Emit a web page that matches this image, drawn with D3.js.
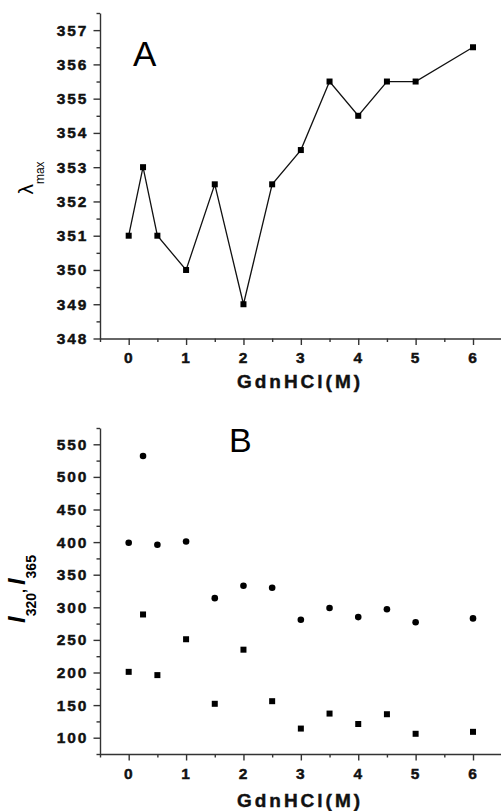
<!DOCTYPE html>
<html>
<head>
<meta charset="utf-8">
<script src="https://cdn.jsdelivr.net/npm/d3@7"></script>
<style>
  body { margin: 0; background: #fff; }
  svg text { font-family: "Liberation Sans", Arial, sans-serif; }
  .tick text { font-weight: bold; font-size: 15.5px; letter-spacing: 2px; fill: #111; stroke: #111; stroke-width: 0.45px; }
  .axis path, .axis line { stroke: #333; stroke-width: 1.4; }
  .title { stroke: #111; stroke-width: 0.45px; fill: #111; }
</style>
</head>
<body>
<div id="chart"></div>
<script>
// GdnHCl concentration (M)
var conc = [0, 0.25, 0.5, 1, 1.5, 2, 2.5, 3, 3.5, 4, 4.5, 5, 6];
// panel A: emission maximum (nm)
var lambdaMax = [351, 353, 351, 350, 352.5, 349, 352.5, 353.5, 355.5, 354.5, 355.5, 355.5, 356.5];
// panel B: intensities
var i320 = [399, 532, 396, 401, 314, 333, 330, 281, 299, 285, 297, 277, 283];
var i365 = [201, 289, 196, 251, 152, 235, 156, 114, 137, 121, 136, 106, 109];

var xTicks = [0, 1, 2, 3, 4, 5, 6];
var yTicksA = [348, 349, 350, 351, 352, 353, 354, 355, 356, 357];
var yTicksB = [100, 150, 200, 250, 300, 350, 400, 450, 500, 550];

var width = 501, height = 811;
var svg = d3.select("#chart").append("svg").attr("width", width).attr("height", height);

var x = d3.scaleLinear().domain([-0.5, 6.5]).range([100, 501.7]);
var yA = d3.scaleLinear().domain([348, 357.5]).range([338.5, 13]);
var yB = d3.scaleLinear().domain([75, 575]).range([754, 428]);

function drawAxes(y, yTicks, yMinorStep, bottom) {
    // minor ticks first
    var xMinor = d3.range(-0.5, 6.51, 0.5).filter(d => xTicks.indexOf(d) < 0);
    svg.append("g").attr("class", "axis")
        .attr("transform", "translate(0," + bottom + ")")
        .call(d3.axisBottom(x).tickValues(xMinor).tickSize(3.5).tickFormat(""))
        .select(".domain").remove();
    svg.append("g").attr("class", "axis")
        .attr("transform", "translate(0," + bottom + ")")
        .call(d3.axisBottom(x).tickValues(xTicks).tickSize(6.5).tickPadding(7).tickSizeOuter(0).tickFormat(d3.format("d")));

    var dom = y.domain();
    var yMinor = d3.range(dom[0], dom[1] + 0.001, yMinorStep).filter(d => yTicks.indexOf(d) < 0);
    svg.append("g").attr("class", "axis")
        .attr("transform", "translate(100,0)")
        .call(d3.axisLeft(y).tickValues(yMinor).tickSize(3.5).tickFormat(""))
        .select(".domain").remove();
    svg.append("g").attr("class", "axis")
        .attr("transform", "translate(100,0)")
        .call(d3.axisLeft(y).tickValues(yTicks).tickSize(6.5).tickPadding(5).tickSizeOuter(0).tickFormat(d3.format("d")));
}

// ---- panel A ----
drawAxes(yA, yTicksA, 0.5, 338.5);

var line = d3.line().x((d, i) => x(conc[i])).y(d => yA(d));
svg.append("path")
    .datum(lambdaMax)
    .attr("fill", "none")
    .attr("stroke", "#111")
    .attr("stroke-width", 1.3)
    .attr("d", line);

svg.append("g").selectAll("rect")
    .data(lambdaMax)
    .enter().append("rect")
    .attr("x", (d, i) => x(conc[i]) - 3)
    .attr("y", d => yA(d) - 3)
    .attr("width", 6).attr("height", 6)
    .attr("fill", "#000");

svg.append("text").attr("x", 133).attr("y", 66)
    .attr("font-size", 35).text("A");

var tA = svg.append("text")
    .attr("transform", "translate(33,178) rotate(-90)")
    .attr("text-anchor", "middle");
tA.append("tspan").attr("font-size", 21).text("λ");
tA.append("tspan").attr("font-size", 12).attr("dy", 11).text("max");

svg.append("text").attr("class", "title").attr("x", 300).attr("y", 388)
    .attr("text-anchor", "middle")
    .attr("font-size", 19).attr("font-weight", "bold")
    .style("letter-spacing", "3px")
    .text("GdnHCl(M)");

// ---- panel B ----
drawAxes(yB, yTicksB, 25, 754);

svg.append("g").selectAll("circle")
    .data(i320)
    .enter().append("circle")
    .attr("cx", (d, i) => x(conc[i]))
    .attr("cy", d => yB(d))
    .attr("r", 3.3)
    .attr("fill", "#000");

svg.append("g").selectAll("rect")
    .data(i365)
    .enter().append("rect")
    .attr("x", (d, i) => x(conc[i]) - 3)
    .attr("y", d => yB(d) - 3)
    .attr("width", 6).attr("height", 6)
    .attr("fill", "#000");

svg.append("text").attr("x", 229).attr("y", 452)
    .attr("font-size", 34).text("B");

var tB = svg.append("text")
    .attr("transform", "translate(25,589) rotate(-90)")
    .attr("text-anchor", "middle")
    .attr("font-weight", "bold");
tB.append("tspan").attr("font-size", 24).attr("font-style", "italic").text("I");
tB.append("tspan").attr("font-size", 14).attr("dy", 11).text("320");
tB.append("tspan").attr("font-size", 14).attr("dy", -11).text(", ");
tB.append("tspan").attr("font-size", 24).attr("font-style", "italic").text("I");
tB.append("tspan").attr("font-size", 14).attr("dy", 11).text("365");

svg.append("text").attr("class", "title").attr("x", 300).attr("y", 806.5)
    .attr("text-anchor", "middle")
    .attr("font-size", 19).attr("font-weight", "bold")
    .style("letter-spacing", "3px")
    .text("GdnHCl(M)");
</script>
</body>
</html>
